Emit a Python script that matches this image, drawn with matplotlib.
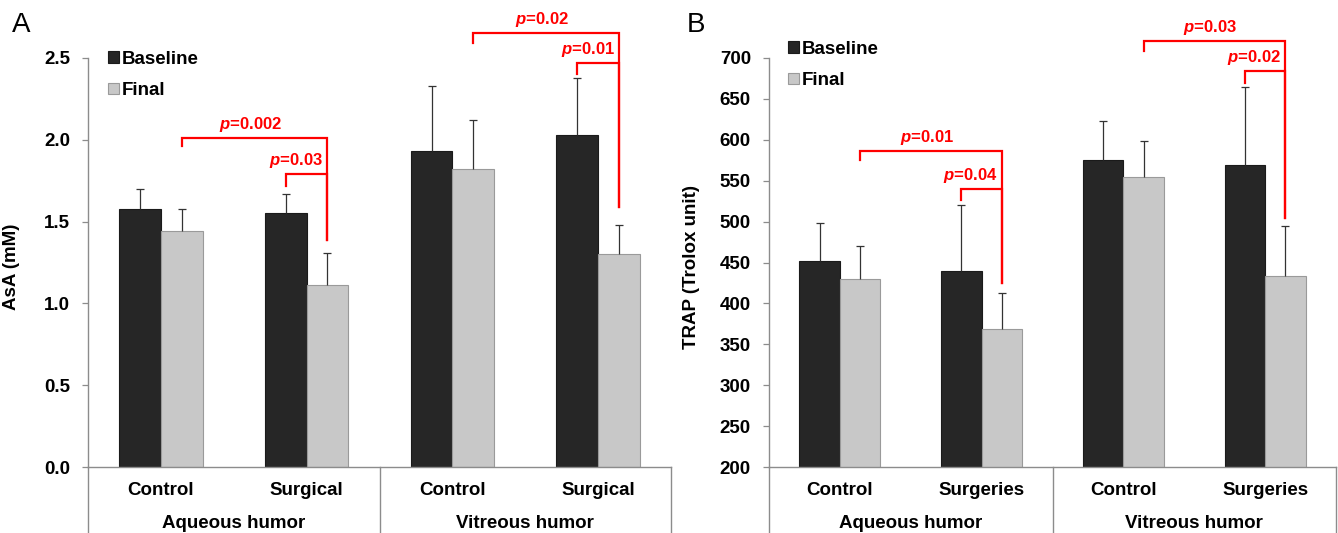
import matplotlib
matplotlib.use("Agg")
import matplotlib.pyplot as plt
import matplotlib.transforms as mtransforms
import numpy as np

plt.rcParams['font.family'] = ['Liberation Sans', 'DejaVu Sans']
plt.rcParams['mathtext.fontset'] = 'custom'
plt.rcParams['mathtext.it'] = 'Liberation Sans:italic:bold'
plt.rcParams['mathtext.rm'] = 'Liberation Sans:bold'

# ---------------- data ----------------
groups = ["Aqueous humor", "Vitreous humor"]
series = ["Baseline", "Final"]

cats_a = ["Control", "Surgical", "Control", "Surgical"]
asa_base = [1.58, 1.55, 1.93, 2.03]
asa_base_err = [0.12, 0.12, 0.40, 0.35]
asa_final = [1.44, 1.11, 1.82, 1.30]
asa_final_err = [0.14, 0.20, 0.30, 0.18]

cats_b = ["Control", "Surgeries", "Control", "Surgeries"]
trap_base = [452, 440, 575, 569]
trap_base_err = [46, 80, 48, 95]
trap_final = [430, 369, 554, 433]
trap_final_err = [40, 44, 45, 62]

# significance brackets: (label, left bar (cat, series), right bar (cat, series), y_h, y_left_end, y_right_end, text style)
sig_a = [
    ("0.002", (0, 1), (1, 1), 2.01, 1.96, 1.39, "outer"),
    ("0.03", (1, 0), (1, 1), 1.79, 1.72, 1.39, "inner"),
    ("0.02", (2, 1), (3, 1), 2.65, 2.59, 1.59, "outer"),
    ("0.01", (3, 0), (3, 1), 2.47, 2.40, 1.59, "inner"),
]
sig_b = [
    ("0.01", (0, 1), (1, 1), 586, 575, 425, "outer"),
    ("0.04", (1, 0), (1, 1), 540, 526, 425, "inner"),
    ("0.03", (2, 1), (3, 1), 721, 709, 505, "outer"),
    ("0.02", (3, 0), (3, 1), 684, 669, 505, "inner"),
]

W = 13.38
H = 5.33
fig = plt.figure(figsize=(W, H), dpi=100)

bw = 0.286
off = 0.143
dark = "#262626"
light = "#c8c8c8"
axis_gray = "#8c8c8c"
red = "#ff0000"


def upper_err(ax, x, y, err):
    cont = ax.errorbar(x, y, yerr=[np.zeros(len(y)), err], fmt="none", ecolor="#333333",
                       elinewidth=0.9, capsize=3.2, capthick=0.9, zorder=3)
    caps = cont.lines[1]
    if len(caps) > 0:
        caps[0].set_visible(False)


def panel(rect, cats, base, berr, final, ferr, ylim, yticks, ytl, ylabel, sig, letter, letter_xy, legend_xy, ylabel_x):
    ax = fig.add_axes(rect)
    x = np.arange(len(cats))
    ax.bar(x - off, base, width=bw, color=dark, edgecolor="#1a1a1a", linewidth=0.8, zorder=2, label=series[0])
    ax.bar(x + off, final, width=bw, color=light, edgecolor="#9a9a9a", linewidth=0.8, zorder=2, label=series[1])
    upper_err(ax, x - off, base, berr)
    upper_err(ax, x + off, final, ferr)
    ax.set_xlim(-0.5, len(cats) - 0.5)
    ax.set_ylim(*ylim)
    ax.set_yticks(yticks)
    ax.set_yticklabels(ytl, fontsize=13.5, fontweight="bold")
    ax.tick_params(axis="y", direction="out", length=4, width=0.9, color=axis_gray, pad=9)
    ax.set_xticks([])
    for s in ["top", "right"]:
        ax.spines[s].set_visible(False)
    for s in ["left", "bottom"]:
        ax.spines[s].set_color(axis_gray)
        ax.spines[s].set_linewidth(1.0)
    ax.set_ylabel(ylabel, fontsize=13.5, fontweight="bold")
    ax.yaxis.set_label_coords(ylabel_x, 0.49)

    trans = mtransforms.blended_transform_factory(ax.transData, ax.transAxes)
    for xs in [-0.5, 1.5, len(cats) - 0.5]:
        ax.plot([xs, xs], [0, -0.2], transform=trans, clip_on=False, color=axis_gray, lw=1.0)
    for i, c in enumerate(cats):
        ax.text(i, -0.057, c, transform=trans, ha="center", va="center", fontsize=13.5, fontweight="bold")
    for g, gname in enumerate(groups):
        ax.text(2 * g + 0.5, -0.139, gname, transform=trans, ha="center", va="center",
                fontsize=13.5, fontweight="bold")

    for lab, (lc, ls), (rc, rs), yh, yl, yr, style in sig:
        xl = lc + (off if ls == 1 else -off)
        xr = rc + (off if rs == 1 else -off)
        ax.plot([xl, xl, xr, xr], [yl, yh, yh, yr], color=red, lw=1.6, clip_on=False, zorder=4,
                solid_joinstyle="miter")
        txt = r"$p$=" + lab
        if style == "outer":
            ax.annotate(txt, xy=((xl + xr) / 2 - 0.03, yh), xytext=(0, 3), textcoords="offset points",
                        ha="center", va="bottom", color=red, fontsize=12, fontweight="bold",
                        annotation_clip=False)
        else:
            ax.annotate(txt, xy=(xr, yh), xytext=(-3, 3), textcoords="offset points",
                        ha="right", va="bottom", color=red, fontsize=12, fontweight="bold",
                        annotation_clip=False)

    fig.text(letter_xy[0], letter_xy[1], letter, fontsize=20, ha="left", va="center")
    ax.legend(loc="upper left", bbox_to_anchor=legend_xy, bbox_transform=fig.transFigure,
              frameon=False, prop={"weight": "bold", "size": 13.5},
              handlelength=0.6, handleheight=0.6, handletextpad=0.15, labelspacing=0.75,
              borderpad=0, borderaxespad=0)
    return ax


bottom = 1 - 467 / 533
top = 1 - 58 / 533
hgt = top - bottom

panel([88 / 1338, bottom, (671 - 88) / 1338, hgt], cats_a, asa_base, asa_base_err, asa_final, asa_final_err,
      (0, 2.5), [0, 0.5, 1.0, 1.5, 2.0, 2.5], ["0.0", "0.5", "1.0", "1.5", "2.0", "2.5"],
      "AsA (mM)", sig_a, "A", (12 / 1338, 1 - 25 / 533), (108 / 1338, 1 - 51 / 533), -0.117)

panel([769 / 1338, bottom, (1336 - 769) / 1338, hgt], cats_b, trap_base, trap_base_err, trap_final, trap_final_err,
      (200, 700), list(range(200, 701, 50)), [str(v) for v in range(200, 701, 50)],
      "TRAP (Trolox unit)", sig_b, "B", (687 / 1338, 1 - 25 / 533), (788 / 1338, 1 - 41 / 533), -0.122)

fig.savefig("out.png", dpi=100)
